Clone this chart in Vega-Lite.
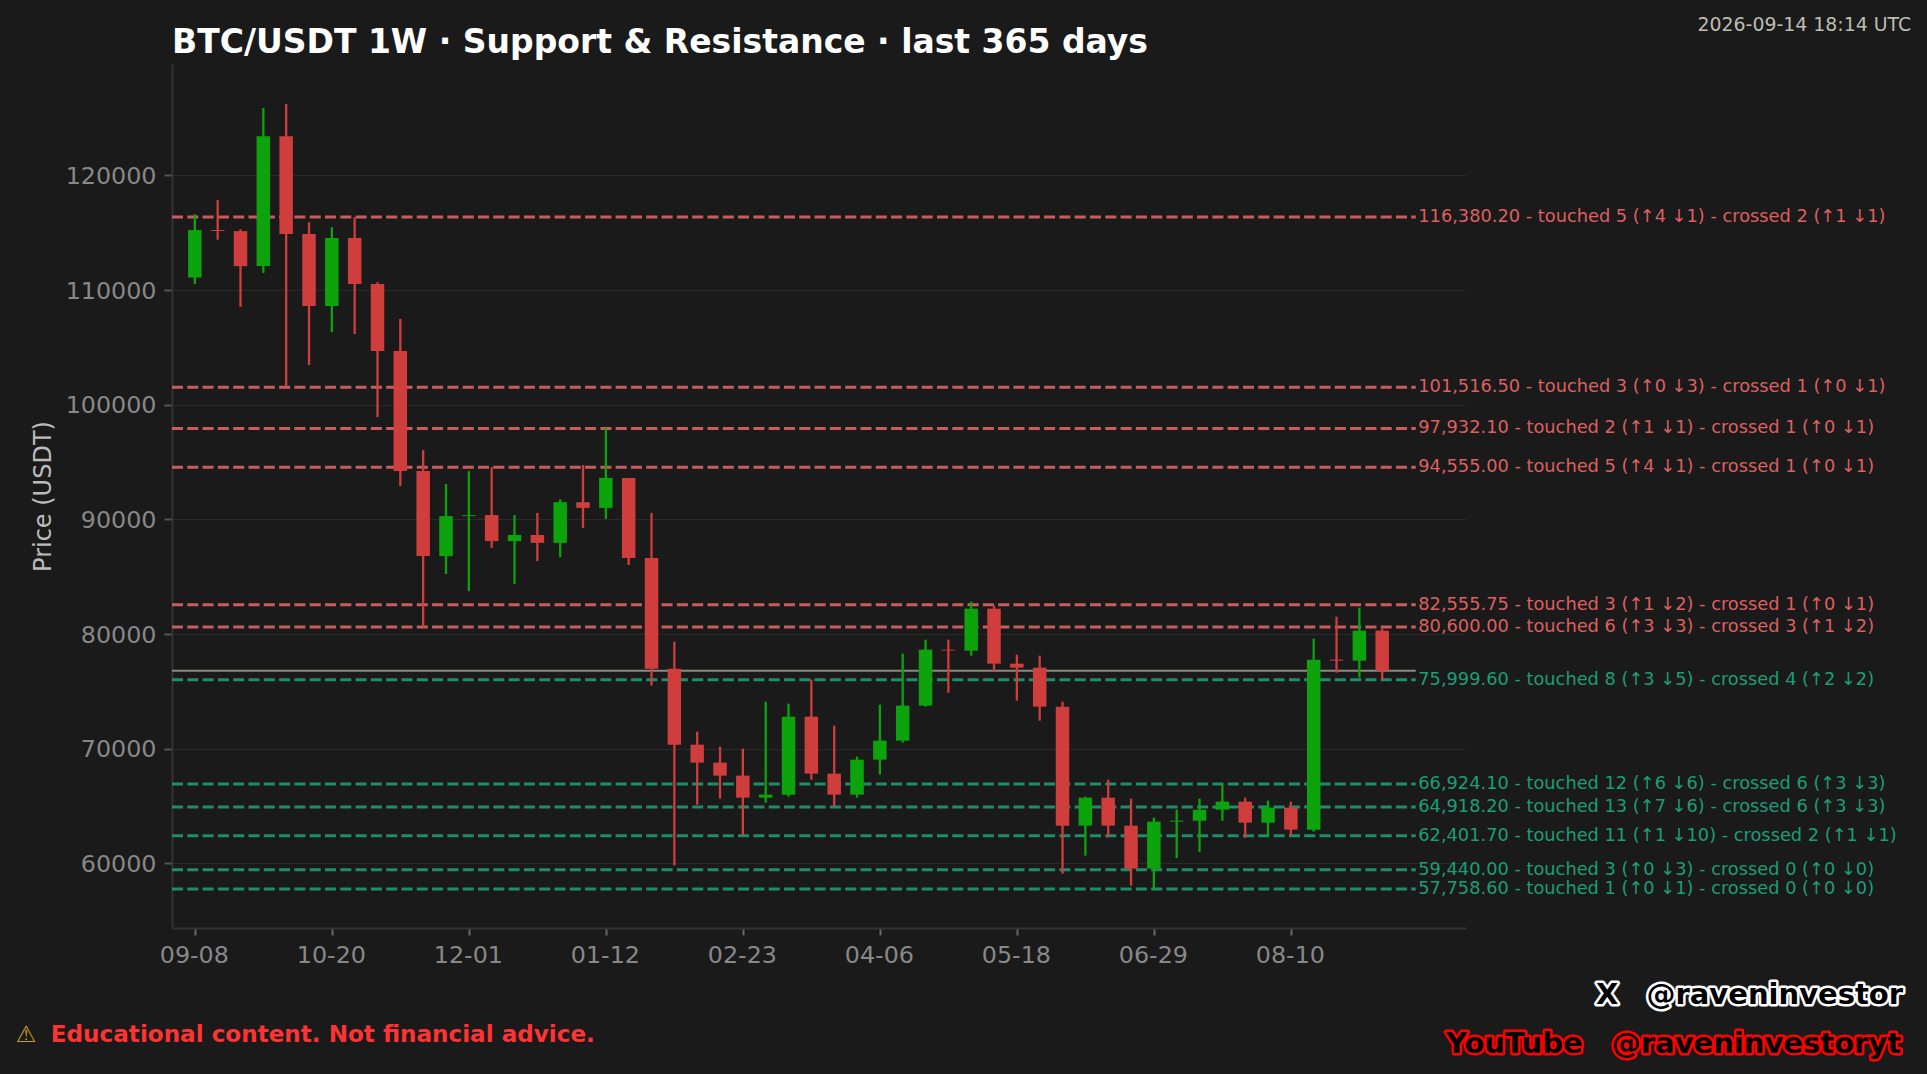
{
"$schema":"https://vega.github.io/schema/vega-lite/v6.json",
"width":1294,"height":864,
"autosize":{"type":"none"},
"padding":{"left":172,"top":64,"right":461,"bottom":146},
"background":"#1a1a1a",
"config":{"view":{"stroke":null},"font":"DejaVu Sans"},
"title":{"text":"BTC/USDT 1W · Support & Resistance · last 365 days","anchor":"start","frame":"group","offset":-70,"baseline":"alphabetic","color":"#ffffff","font":"DejaVu Sans","fontWeight":"bold","fontSize":33},
"resolve":{"scale":{"color":"independent"}},
"datasets":{
"levels":[
{"price":116380.20,"side":"resistance","label":"116,380.20 - touched 5 (↑4 ↓1) - crossed 2 (↑1 ↓1)"},
{"price":101516.50,"side":"resistance","label":"101,516.50 - touched 3 (↑0 ↓3) - crossed 1 (↑0 ↓1)"},
{"price":97932.10,"side":"resistance","label":"97,932.10 - touched 2 (↑1 ↓1) - crossed 1 (↑0 ↓1)"},
{"price":94555.00,"side":"resistance","label":"94,555.00 - touched 5 (↑4 ↓1) - crossed 1 (↑0 ↓1)"},
{"price":82555.75,"side":"resistance","label":"82,555.75 - touched 3 (↑1 ↓2) - crossed 1 (↑0 ↓1)"},
{"price":80600.00,"side":"resistance","label":"80,600.00 - touched 6 (↑3 ↓3) - crossed 3 (↑1 ↓2)"},
{"price":75999.60,"side":"support","label":"75,999.60 - touched 8 (↑3 ↓5) - crossed 4 (↑2 ↓2)"},
{"price":66924.10,"side":"support","label":"66,924.10 - touched 12 (↑6 ↓6) - crossed 6 (↑3 ↓3)"},
{"price":64918.20,"side":"support","label":"64,918.20 - touched 13 (↑7 ↓6) - crossed 6 (↑3 ↓3)"},
{"price":62401.70,"side":"support","label":"62,401.70 - touched 11 (↑1 ↓10) - crossed 2 (↑1 ↓1)"},
{"price":59440.00,"side":"support","label":"59,440.00 - touched 3 (↑0 ↓3) - crossed 0 (↑0 ↓0)"},
{"price":57758.60,"side":"support","label":"57,758.60 - touched 1 (↑0 ↓1) - crossed 0 (↑0 ↓0)"}
],
"candles":[
{"date":"2025-09-08","open":111091,"high":116605,"low":110530,"close":115234},
{"date":"2025-09-15","open":115234,"high":117850,"low":114393,"close":115150},
{"date":"2025-09-22","open":115140,"high":115296,"low":108537,"close":112088},
{"date":"2025-09-29","open":112088,"high":125887,"low":111496,"close":123426},
{"date":"2025-10-06","open":123426,"high":126230,"low":101559,"close":114891},
{"date":"2025-10-13","open":114891,"high":115919,"low":103459,"close":108599},
{"date":"2025-10-20","open":108599,"high":115483,"low":106325,"close":114549},
{"date":"2025-10-27","open":114549,"high":116355,"low":106169,"close":110530},
{"date":"2025-11-03","open":110530,"high":110686,"low":98911,"close":104674},
{"date":"2025-11-10","open":104674,"high":107478,"low":92899,"close":94208},
{"date":"2025-11-17","open":94208,"high":96046,"low":80600,"close":86794},
{"date":"2025-11-24","open":86794,"high":93086,"low":85236,"close":90283},
{"date":"2025-12-01","open":90283,"high":94208,"low":83741,"close":90363},
{"date":"2025-12-08","open":90376,"high":94551,"low":87511,"close":88102},
{"date":"2025-12-15","open":88102,"high":90376,"low":84364,"close":88633},
{"date":"2025-12-22","open":88633,"high":90563,"low":86358,"close":87947},
{"date":"2025-12-29","open":87947,"high":91747,"low":86701,"close":91498},
{"date":"2026-01-05","open":91498,"high":94737,"low":89255,"close":91000},
{"date":"2026-01-12","open":91000,"high":97977,"low":90034,"close":93616},
{"date":"2026-01-19","open":93616,"high":93616,"low":86016,"close":86638},
{"date":"2026-01-26","open":86638,"high":90563,"low":75494,"close":76977},
{"date":"2026-02-02","open":76977,"high":79331,"low":59825,"close":70349},
{"date":"2026-02-09","open":70349,"high":71483,"low":65116,"close":68779},
{"date":"2026-02-16","open":68779,"high":70174,"low":65640,"close":67645},
{"date":"2026-02-23","open":67645,"high":70000,"low":62442,"close":65727},
{"date":"2026-03-02","open":65727,"high":74099,"low":65290,"close":65988},
{"date":"2026-03-09","open":65988,"high":73924,"low":65814,"close":72791},
{"date":"2026-03-16","open":72791,"high":76017,"low":67296,"close":67820},
{"date":"2026-03-23","open":67820,"high":72006,"low":64942,"close":65988},
{"date":"2026-03-30","open":65988,"high":69302,"low":65727,"close":69041},
{"date":"2026-04-06","open":69041,"high":73837,"low":67732,"close":70698},
{"date":"2026-04-13","open":70698,"high":78285,"low":70523,"close":73750},
{"date":"2026-04-20","open":73750,"high":79506,"low":73663,"close":78634},
{"date":"2026-04-27","open":78634,"high":79506,"low":74884,"close":78560},
{"date":"2026-05-04","open":78547,"high":82820,"low":78110,"close":82209},
{"date":"2026-05-11","open":82209,"high":82471,"low":76744,"close":77413},
{"date":"2026-05-18","open":77413,"high":78198,"low":74186,"close":77064},
{"date":"2026-05-25","open":77064,"high":78110,"low":72442,"close":73663},
{"date":"2026-06-01","open":73663,"high":74099,"low":59098,"close":63284},
{"date":"2026-06-08","open":63284,"high":65814,"low":60668,"close":65727},
{"date":"2026-06-15","open":65727,"high":67296,"low":62267,"close":63284},
{"date":"2026-06-22","open":63284,"high":65640,"low":58052,"close":59535},
{"date":"2026-06-29","open":59535,"high":63984,"low":57733,"close":63633},
{"date":"2026-07-06","open":63633,"high":64680,"low":60451,"close":63720},
{"date":"2026-07-13","open":63720,"high":65640,"low":60974,"close":64680},
{"date":"2026-07-20","open":64680,"high":66860,"low":63720,"close":65378},
{"date":"2026-07-27","open":65378,"high":65727,"low":62238,"close":63546},
{"date":"2026-08-03","open":63546,"high":65465,"low":62326,"close":64855},
{"date":"2026-08-10","open":64855,"high":65378,"low":62471,"close":62936},
{"date":"2026-08-17","open":62936,"high":79593,"low":62762,"close":77762},
{"date":"2026-08-24","open":77762,"high":81512,"low":76628,"close":77674},
{"date":"2026-08-31","open":77674,"high":82296,"low":76192,"close":80291},
{"date":"2026-09-07","open":80291,"high":80465,"low":76017,"close":76802}
]
},
"layer":[
{"data":{"name":"levels"},
 "mark":{"type":"rule","strokeWidth":3,"strokeDash":[11,4.3]},
 "encoding":{
  "x":{"datum":{"year":2025,"month":9,"date":1,"utc":true},"type":"temporal","scale":{"type":"utc","nice":false,"padding":0,"domain":[{"year":2025,"month":9,"date":1,"utc":true},{"year":2026,"month":10,"date":2,"hours":16,"minutes":30,"utc":true}]},
   "axis":{"title":null,"values":[{"year":2025,"month":9,"date":8,"utc":true},{"year":2025,"month":10,"date":20,"utc":true},{"year":2025,"month":12,"date":1,"utc":true},{"year":2026,"month":1,"date":12,"utc":true},{"year":2026,"month":2,"date":23,"utc":true},{"year":2026,"month":4,"date":6,"utc":true},{"year":2026,"month":5,"date":18,"utc":true},{"year":2026,"month":6,"date":29,"utc":true},{"year":2026,"month":8,"date":10,"utc":true}],"format":"%m-%d","labelOverlap":false,"labelFlush":false,"grid":false,"domainColor":"#333333","domainWidth":2,"tickColor":"#666666","tickWidth":2,"tickSize":7,"labelColor":"#888888","labelFontSize":23.8,"labelPadding":8,"labelOffset":-1,"labelFont":"DejaVu Sans"}},
  "x2":{"datum":{"year":2026,"month":9,"date":17,"hours":7,"utc":true}},
  "y":{"field":"price","type":"quantitative","scale":{"domain":[54357,129717],"nice":false,"zero":false},
   "axis":{"title":"Price (USDT)","titleColor":"#bbbbbb","titleFontSize":24,"titleFontWeight":"normal","titleFont":"DejaVu Sans","titlePadding":10,"values":[60000,70000,80000,90000,100000,110000,120000],"format":"d","grid":true,"gridColor":"#2a2a2a","gridWidth":1,"domainColor":"#333333","domainWidth":2,"tickColor":"#555555","tickWidth":2,"tickSize":8,"labelColor":"#888888","labelFontSize":23.8,"labelPadding":8,"labelOffset":1,"labelFont":"DejaVu Sans"}},
  "color":{"field":"side","type":"nominal","legend":null,"scale":{"domain":["resistance","support"],"range":["#c95c5c","#1f8d69"]}}
 }},
{"data":{"values":[{"price":76799}]},
 "mark":{"type":"rule","strokeWidth":2,"color":"#8a8a80"},
 "encoding":{
  "x":{"datum":{"year":2025,"month":9,"date":1,"utc":true},"type":"temporal"},
  "x2":{"datum":{"year":2026,"month":9,"date":17,"hours":7,"utc":true}},
  "y":{"field":"price","type":"quantitative"}
 }},
{"data":{"name":"candles"},
 "transform":[{"calculate":"datum.close>=datum.open?'up':'down'","as":"dir"}],
 "layer":[
  {"mark":{"type":"rule","strokeWidth":2.3},
   "encoding":{
    "x":{"field":"date","type":"temporal"},
    "y":{"field":"low","type":"quantitative"},
    "y2":{"field":"high"},
    "color":{"field":"dir","type":"nominal","legend":null,"scale":{"domain":["up","down"],"range":["#0ca30c","#d03d3d"]}}
   }},
  {"mark":{"type":"bar","size":13.5},
   "encoding":{
    "x":{"field":"date","type":"temporal"},
    "y":{"field":"open","type":"quantitative"},
    "y2":{"field":"close"},
    "color":{"field":"dir","type":"nominal","legend":null,"scale":{"domain":["up","down"],"range":["#0ca30c","#d03d3d"]}}
   }}
 ]},
{"data":{"name":"levels"},
 "mark":{"type":"text","align":"left","baseline":"middle","dx":2.5,"dy":-0.2,"fontSize":17.8,"font":"DejaVu Sans"},
 "encoding":{
  "x":{"datum":{"year":2026,"month":9,"date":17,"hours":7,"utc":true},"type":"temporal"},
  "y":{"field":"price","type":"quantitative"},
  "text":{"field":"label"},
  "color":{"field":"side","type":"nominal","legend":null,"scale":{"domain":["resistance","support"],"range":["#dd6060","#1c9e74"]}}
 }},
{"data":{"values":[{"stamp":"2026-09-14 18:14 UTC"}]},
 "mark":{"type":"text","align":"right","baseline":"middle","fontSize":18.9,"color":"#bdbdb0","font":"DejaVu Sans"},
 "encoding":{"x":{"datum":{"year":2027,"month":2,"date":16,"hours":4,"utc":true},"type":"temporal"},"y":{"datum":133119,"type":"quantitative"},"text":{"field":"stamp"}}},
{"data":{"values":[{"note":"⚠"}]},
 "mark":{"type":"text","align":"left","baseline":"middle","fontSize":23,"color":"#c8a020","font":"DejaVu Sans"},
 "encoding":{"x":{"datum":{"year":2025,"month":7,"date":15,"hours":3,"utc":true},"type":"temporal"},"y":{"datum":45024,"type":"quantitative"},"text":{"field":"note"}}},
{"data":{"values":[{"note":"Educational content. Not financial advice."}]},
 "mark":{"type":"text","align":"left","baseline":"middle","fontSize":23.1,"fontWeight":"bold","color":"#ff3333","font":"DejaVu Sans"},
 "encoding":{"x":{"datum":{"year":2025,"month":7,"date":25,"hours":20,"minutes":24,"utc":true},"type":"temporal"},"y":{"datum":45024,"type":"quantitative"},"text":{"field":"note"}}},
{"data":{"values":[{"handle":"X"}]},
 "layer":[
  {"mark":{"type":"text","align":"left","baseline":"middle","fontSize":29,"fontWeight":"bold","font":"DejaVu Sans","color":"#ffffff","stroke":"#ffffff","strokeWidth":5,"strokeJoin":"round"}},
  {"mark":{"type":"text","align":"left","baseline":"middle","fontSize":29,"fontWeight":"bold","font":"DejaVu Sans","color":"#000000"}}
 ],
 "encoding":{"x":{"datum":{"year":2026,"month":11,"date":11,"hours":13,"minutes":30,"utc":true},"type":"temporal"},"y":{"datum":48513,"type":"quantitative"},"text":{"field":"handle"}}},
{"data":{"values":[{"handle":"@raveninvestor"}]},
 "layer":[
  {"mark":{"type":"text","align":"right","baseline":"middle","fontSize":29,"fontWeight":"bold","font":"DejaVu Sans","color":"#ffffff","stroke":"#ffffff","strokeWidth":5,"strokeJoin":"round"}},
  {"mark":{"type":"text","align":"right","baseline":"middle","fontSize":29,"fontWeight":"bold","font":"DejaVu Sans","color":"#000000"}}
 ],
 "encoding":{"x":{"datum":{"year":2027,"month":2,"date":13,"hours":16,"minutes":30,"utc":true},"type":"temporal"},"y":{"datum":48513,"type":"quantitative"},"text":{"field":"handle"}}},
{"data":{"values":[{"handle":"YouTube"}]},
 "layer":[
  {"mark":{"type":"text","align":"left","baseline":"middle","fontSize":29,"fontWeight":"bold","font":"DejaVu Sans","color":"#ff0000","stroke":"#ff0000","strokeWidth":5,"strokeJoin":"round"}},
  {"mark":{"type":"text","align":"left","baseline":"middle","fontSize":29,"fontWeight":"bold","font":"DejaVu Sans","color":"#000000"}}
 ],
 "encoding":{"x":{"datum":{"year":2026,"month":9,"date":26,"hours":13,"minutes":40,"utc":true},"type":"temporal"},"y":{"datum":44266,"type":"quantitative"},"text":{"field":"handle"}}},
{"data":{"values":[{"handle":"@raveninvestoryt"}]},
 "layer":[
  {"mark":{"type":"text","align":"right","baseline":"middle","fontSize":29,"fontWeight":"bold","font":"DejaVu Sans","color":"#ff0000","stroke":"#ff0000","strokeWidth":5,"strokeJoin":"round"}},
  {"mark":{"type":"text","align":"right","baseline":"middle","fontSize":29,"fontWeight":"bold","font":"DejaVu Sans","color":"#000000"}}
 ],
 "encoding":{"x":{"datum":{"year":2027,"month":2,"date":13,"hours":2,"utc":true},"type":"temporal"},"y":{"datum":44266,"type":"quantitative"},"text":{"field":"handle"}}}
]
}
